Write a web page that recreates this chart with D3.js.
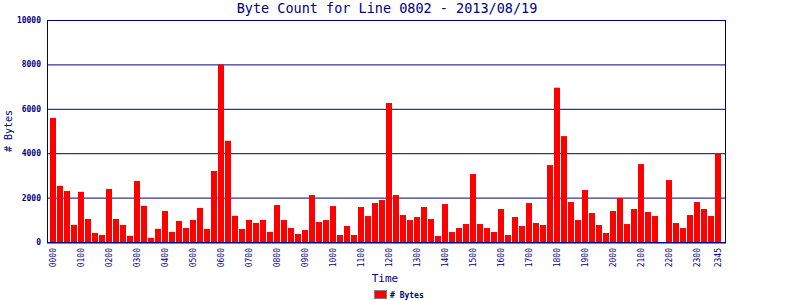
<!DOCTYPE html>
<html>
<head>
<meta charset="utf-8">
<script src="https://cdn.jsdelivr.net/npm/d3@7"></script>
<style>
  body { margin: 0; background: #fff; }
  text { font-family: "DejaVu Sans Mono", monospace; fill: #000080; }
</style>
</head>
<body>
<div id="chart-container"></div>
<script>
// Byte counts per 15 minute slot, 0000 .. 2345
const bytes = [
  5590, 2530, 2300, 775, 2260, 1040, 410, 320,
  2390, 1040, 770, 280, 2750, 1630, 190, 595,
  1400, 455, 950, 630, 995, 1535, 590, 3200,
  8000, 4560, 1180, 590, 995, 860, 995, 455,
  1665, 990, 630, 360, 540, 2115, 900, 990,
  1620, 315, 720, 315, 1575, 1170, 1755, 1890,
  6260, 2115, 1215, 990, 1125, 1575, 1035, 270,
  1710, 450, 630, 810, 3060, 810, 630, 450,
  1485, 315, 1125, 720, 1755, 855, 765, 3465,
  6950, 4770, 1800, 990, 2340, 1305, 765, 405,
  1395, 1980, 810, 1485, 3510, 1350, 1170, 0,
  2790, 855, 630, 1215, 1800, 1485, 1170, 4005
];

// time slot names (HHMM)
const slots = d3.range(96).map(i =>
  String(Math.floor(i / 4)).padStart(2, "0") + String((i % 4) * 15).padStart(2, "0"));

// labels shown under the axis
const tickLabels = [
  "0000", "0100", "0200", "0300", "0400", "0500", "0600", "0700", "0800",
  "0900", "1000", "1100", "1200", "1300", "1400", "1500", "1600", "1700",
  "1800", "1900", "2000", "2100", "2200", "2300", "2345"
];

const yTicks = [0, 2000, 4000, 6000, 8000, 10000];

const data = slots.map((s, i) => ({ slot: s, bytes: bytes[i] }));

const W = 800, H = 300;
const plot = { left: 47, right: 725, top: 20, bottom: 242 };

const svg = d3.select("#chart-container")
  .append("svg")
  .attr("width", W)
  .attr("height", H);

const x = d3.scaleBand()
  .domain(slots)
  .range([plot.left, plot.right])
  .paddingInner(0.14)
  .paddingOuter(0.5);

const y = d3.scaleLinear()
  .domain([0, 10000])
  .range([plot.bottom, plot.top]);

// Horizontal gridlines
svg.selectAll(".grid")
  .data(yTicks.slice(1, -1))
  .join("line")
  .attr("x1", plot.left)
  .attr("x2", plot.right)
  .attr("y1", d => y(d) + 0.5)
  .attr("y2", d => y(d) + 0.5)
  .attr("stroke", "#000080")
  .attr("stroke-width", 1);

// Bars
svg.selectAll(".bar")
  .data(data)
  .join("rect")
  .attr("x", d => Math.round(x(d.slot)))
  .attr("y", d => y(d.bytes))
  .attr("width", Math.round(x.bandwidth()))
  .attr("height", d => plot.bottom - y(d.bytes))
  .attr("fill", "#ff0000");

// Plot frame
svg.append("rect")
  .attr("x", plot.left + 0.5)
  .attr("y", plot.top + 0.5)
  .attr("width", plot.right - plot.left)
  .attr("height", plot.bottom - plot.top)
  .attr("fill", "none")
  .attr("stroke", "#000080")
  .attr("stroke-width", 1);

svg.append("line")
  .attr("x1", plot.left)
  .attr("x2", plot.right + 1)
  .attr("y1", plot.bottom + 1)
  .attr("y2", plot.bottom + 1)
  .attr("stroke", "#000080")
  .attr("stroke-width", 1);

// Y axis
svg.append("g")
  .attr("transform", `translate(${plot.left},0)`)
  .call(d3.axisLeft(y)
    .tickValues(yTicks)
    .tickFormat(d3.format("d"))
    .tickSize(0)
    .tickPadding(6))
  .call(g => g.select(".domain").remove())
  .selectAll(".tick text")
  .style("font-size", "8px")
  .style("font-weight", "bold")
  .style("font-family", "DejaVu Sans Mono, monospace")
  .attr("fill", "#000080");

// X axis labels (rotated)
const labelSlot = d => d === "2345" ? "2345" : d;
svg.append("g")
  .attr("transform", `translate(0,${plot.bottom})`)
  .call(d3.axisBottom(x)
    .tickValues(tickLabels.map(labelSlot))
    .tickSize(0)
    .tickPadding(0))
  .call(g => g.select(".domain").remove())
  .selectAll(".tick text")
  .attr("transform", "rotate(-90)")
  .attr("x", -6)
  .attr("y", 0)
  .attr("dy", "0.32em")
  .style("text-anchor", "end")
  .style("font-size", "8px")
  .style("font-family", "DejaVu Sans Mono, monospace")
  .attr("fill", "#000080");

// Title
svg.append("text")
  .attr("x", 387)
  .attr("y", 13)
  .attr("text-anchor", "middle")
  .style("font-size", "13.5px")
  .text("Byte Count for Line 0802 - 2013/08/19");

// Y axis title
svg.append("text")
  .attr("transform", `translate(12,${(plot.top + plot.bottom) / 2}) rotate(-90)`)
  .attr("text-anchor", "middle")
  .style("font-size", "10px")
  .text("# Bytes");

// X axis title
svg.append("text")
  .attr("x", 385)
  .attr("y", 282)
  .attr("text-anchor", "middle")
  .style("font-size", "11px")
  .text("Time");

// Legend
svg.append("rect")
  .attr("x", 374.5)
  .attr("y", 290.5)
  .attr("width", 12)
  .attr("height", 8)
  .attr("fill", "#ff0000")
  .attr("stroke", "#808080");

svg.append("text")
  .attr("x", 390)
  .attr("y", 298)
  .style("font-size", "8px")
  .style("font-weight", "bold")
  .text("# Bytes");
</script>
</body>
</html>
